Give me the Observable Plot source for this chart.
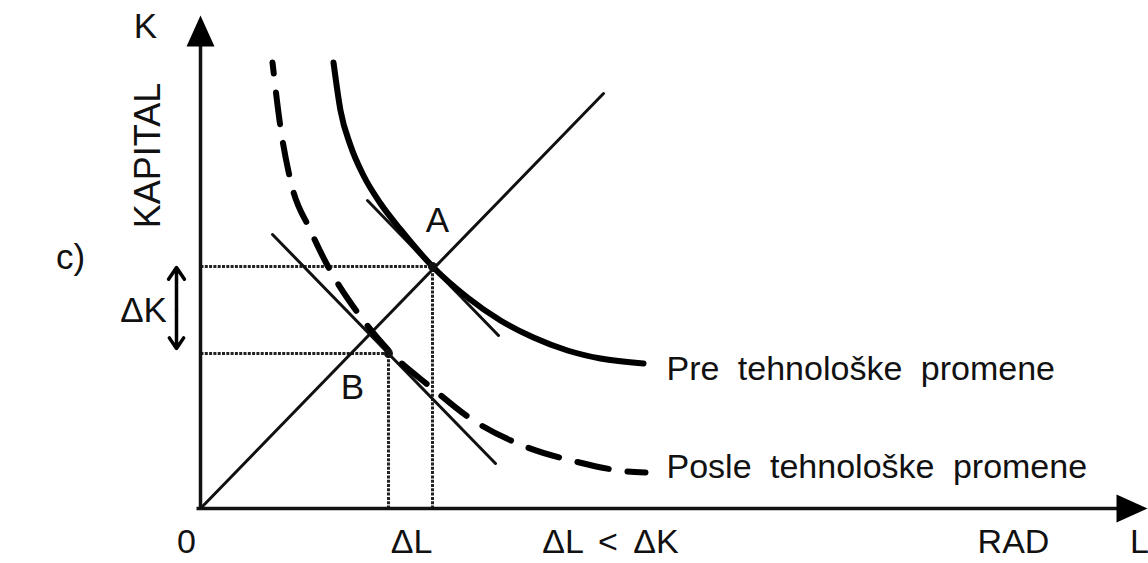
<!DOCTYPE html>
<html>
<head>
<meta charset="utf-8">
<script src="https://cdn.jsdelivr.net/npm/d3@7"></script>
<script src="https://cdn.jsdelivr.net/npm/@observablehq/plot@0.6"></script>
<style>
  html, body { margin: 0; padding: 0; background: #fff; }
  #chart svg { display: block; }
  .wide text { word-spacing: 9px; }
  .mid text { word-spacing: 6px; }
</style>
</head>
<body>
<div id="chart"></div>
<script>
// ---- Data (L = rad / labour, K = kapital / capital) ----
// Isoquant before technological change (solid)
const preL = [1.33, 1.40, 1.50, 1.63, 1.80, 2.00, 2.33, 2.67, 3.00, 3.33, 3.67, 4.00, 4.43];
const preK = [4.46, 3.98, 3.63, 3.33, 3.05, 2.79, 2.41, 2.11, 1.88, 1.71, 1.58, 1.50, 1.45];
// Isoquant after technological change (dashed)
const postL = [0.72, 0.80, 0.90, 1.10, 1.27, 1.57, 1.90, 2.32, 2.70, 3.22, 3.75, 4.27, 4.45];
const postK = [4.46, 3.81, 3.28, 2.78, 2.43, 1.96, 1.56, 1.20, 0.90, 0.63, 0.47, 0.37, 0.36];
// Ray from origin (constant K/L)
const rayL = [0, 4.03];
const rayK = [0, 4.15];
// Tangent (isocost) lines
const tanAL = [1.67, 2.98];
const tanAK = [3.08, 1.73];
const tanBL = [0.72, 2.95];
const tanBK = [2.74, 0.45];
// Points A and B (tangency points)
const pointNames = ["A", "B"];
const pointL = [2.32, 1.88];
const pointK = [2.42, 1.55];
// Axis extents
const axisMaxL = 9.47;
const axisMaxK = 4.93;
// Labels
const labelTexts = ["K", "A", "B", "ΔK", "c)"];
const labelL = [-0.55, 2.37, 1.52, -0.57, -1.30];
const labelK = [4.82, 2.88, 1.21, 1.98, 2.51];
const bottomTexts = ["0", "ΔL", "RAD", "L"];
const bottomL = [-0.14, 2.11, 8.13, 9.39];
const bottomK = [-0.34, -0.34, -0.34, -0.34];
const axisTitle = ["KAPITAL"];
const axisTitleL = [-0.52];
const axisTitleK = [3.53];
const curveNames = ["Pre tehnološke promene", "Posle tehnološke promene"];
const curveNameL = [4.66, 4.66];
const curveNameK = [1.39, 0.41];
const compareText = ["ΔL < ΔK"];
const compareL = [4.10];
const compareK = [-0.34];

// ---- Derived tables ----
const zip = (xs, ys) => xs.map((x, i) => ({L: x, K: ys[i]}));
const pre = zip(preL, preK);
const post = zip(postL, postK);
const ray = zip(rayL, rayK);
const tanA = zip(tanAL, tanAK);
const tanB = zip(tanBL, tanBK);
const points = pointNames.map((n, i) => ({name: n, L: pointL[i], K: pointK[i]}));
const labels = labelTexts.map((t, i) => ({text: t, L: labelL[i], K: labelK[i]}));
const bottomLabels = bottomTexts.map((t, i) => ({text: t, L: bottomL[i], K: bottomK[i]}));
const titles = axisTitle.map((t, i) => ({text: t, L: axisTitleL[i], K: axisTitleK[i]}));
const curveLabels = curveNames.map((t, i) => ({text: t, L: curveNameL[i], K: curveNameK[i]}));
const compareLabels = compareText.map((t, i) => ({text: t, L: compareL[i], K: compareK[i]}));
const guidesH = points.map(p => ({L1: 0, L2: p.L, K: p.K}));
const guidesV = points.map(p => ({L: p.L, K1: 0, K2: p.K}));
const heads = [
  {L: 0, K: axisMaxK, rot: 0},
  {L: axisMaxL, K: 0, rot: 90}
];
const midK = (pointK[0] + pointK[1]) / 2;
const deltaK = [
  {L: -0.24, K1: midK, K2: 2.41},
  {L: -0.24, K1: midK, K2: 1.60}
];

// filled arrow-head symbol, tip at the anchor point, pointing up
const arrowHead = {
  draw(ctx) {
    ctx.moveTo(0, 0);
    ctx.lineTo(14, 31);
    ctx.lineTo(-14, 31);
    ctx.closePath();
  }
};

const ink = "#111";
const font = "'Liberation Sans', Arial, Helvetica, sans-serif";

const chart = Plot.plot({
  width: 1148,
  height: 563,
  margin: 0,
  style: {background: "#fff", fontFamily: font},
  x: {type: "linear", domain: [0, axisMaxL], range: [200, 1147], axis: null},
  y: {type: "linear", domain: [0, axisMaxK], range: [508, 15], axis: null},
  marks: [
    // dotted guide lines
    Plot.link(guidesH, {x1: "L1", x2: "L2", y1: "K", y2: "K", stroke: "#222", strokeWidth: 3, strokeDasharray: "3,1.3"}),
    Plot.link(guidesV, {x1: "L", x2: "L", y1: "K1", y2: "K2", stroke: "#222", strokeWidth: 3, strokeDasharray: "3,1.3"}),
    // ray and tangents
    Plot.line(ray, {x: "L", y: "K", stroke: ink, strokeWidth: 3}),
    Plot.line(tanA, {x: "L", y: "K", stroke: ink, strokeWidth: 3}),
    Plot.line(tanB, {x: "L", y: "K", stroke: ink, strokeWidth: 3}),
    // isoquants
    Plot.line(pre, {x: "L", y: "K", stroke: "#000", strokeWidth: 6, curve: "monotone-x"}),
    Plot.line(post, {x: "L", y: "K", stroke: "#000", strokeWidth: 6, curve: "monotone-x", strokeDasharray: "32,19", strokeDashoffset: 21}),
    // axes
    Plot.link([{x1: 0, x2: 0, y1: 0, y2: axisMaxK - 0.1}], {x1: "x1", x2: "x2", y1: "y1", y2: "y2", stroke: ink, strokeWidth: 3.5}),
    Plot.link([{x1: -0.04, x2: axisMaxL - 0.1, y1: 0, y2: 0}], {x1: "x1", x2: "x2", y1: "y1", y2: "y2", stroke: ink, strokeWidth: 3.5}),
    Plot.dot(heads, {x: "L", y: "K", rotate: "rot", symbol: arrowHead, fill: "#000", stroke: null}),
    // ΔK double arrow
    Plot.arrow(deltaK, {x1: "L", x2: "L", y1: "K1", y2: "K2", stroke: "#000", strokeWidth: 3.5, headLength: 24, headAngle: 68}),
    // points
    Plot.dot(points, {x: "L", y: "K", r: 4.5, fill: ink, stroke: null}),
    // labels
    Plot.text(labels, {x: "L", y: "K", text: "text", fontSize: 35, fill: "#111", textAnchor: "middle", lineAnchor: "middle"}),
    Plot.text(bottomLabels, {x: "L", y: "K", text: "text", fontSize: 34, fill: "#111", textAnchor: "middle", lineAnchor: "middle"}),
    Plot.text(titles, {x: "L", y: "K", text: "text", rotate: -90, fontSize: 36, fill: "#111", textAnchor: "middle", lineAnchor: "middle"}),
    Plot.text(compareLabels, {x: "L", y: "K", text: "text", fontSize: 34, fill: "#111", textAnchor: "middle", lineAnchor: "middle", className: "mid"}),
    Plot.text(curveLabels, {x: "L", y: "K", text: "text", fontSize: 34, fill: "#111", textAnchor: "start", lineAnchor: "middle", className: "wide"})
  ]
});

document.getElementById("chart").appendChild(chart);
</script>
</body>
</html>
